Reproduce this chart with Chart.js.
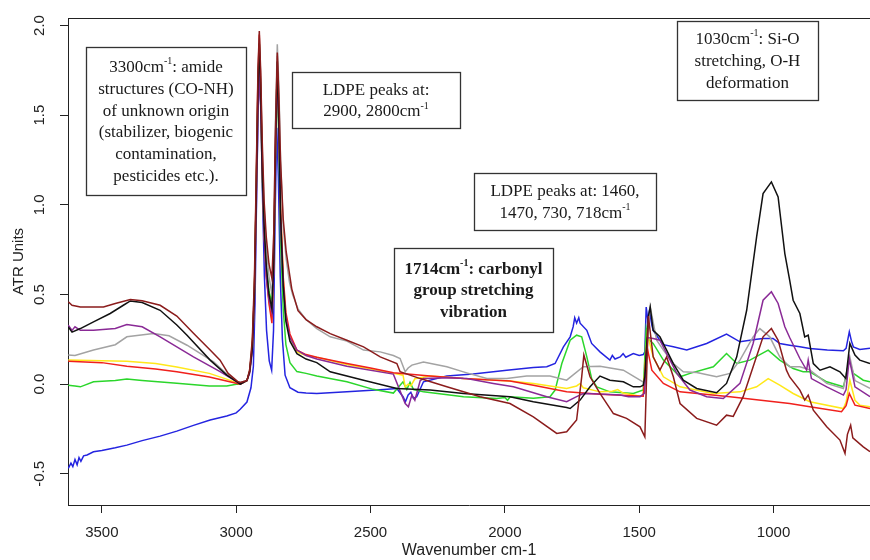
<!DOCTYPE html>
<html><head><meta charset="utf-8">
<script src="https://cdn.jsdelivr.net/npm/chart.js@4.4.1/dist/chart.umd.min.js"></script>
<style>html,body{margin:0;padding:0;background:#fff;overflow:hidden}#wrap{width:870px;height:560px;position:relative}</style>
</head><body><div id="wrap"><canvas id="c" width="870" height="560"></canvas></div>
<script>
// ---- data: [wavenumber cm-1, ATR units] ----
const blueSeries = [[3625,-0.47],[3615,-0.44],[3608,-0.46],[3600,-0.42],[3592,-0.45],[3585,-0.41],[3578,-0.43],[3568,-0.40],[3555,-0.395],[3531,-0.377],[3500,-0.37],[3450,-0.355],[3407,-0.34],[3350,-0.315],[3283,-0.29],[3221,-0.262],[3159,-0.23],[3097,-0.20],[3035,-0.178],[3000,-0.16],[2985,-0.14],[2960,-0.1],[2945,-0.02],[2936,0.1],[2930,0.45],[2924,1.05],[2918,1.55],[2913,1.74],[2908,1.55],[2902,1.05],[2895,0.6],[2887,0.3],[2877,0.13],[2868,0.078],[2861,0.3],[2855,0.95],[2849,1.43],[2843,1.15],[2836,0.6],[2828,0.25],[2818,0.05],[2800,-0.02],[2770,-0.045],[2740,-0.05],[2700,-0.052],[2588,-0.043],[2450,-0.03],[2402,-0.024],[2379,-0.07],[2370,-0.098],[2360,-0.06],[2350,-0.045],[2340,-0.08],[2328,-0.07],[2303,0.013],[2216,0.045],[2118,0.056],[1993,0.078],[1894,0.093],[1844,0.097],[1813,0.115],[1782,0.208],[1757,0.264],[1746,0.319],[1740,0.37],[1733,0.34],[1725,0.37],[1720,0.34],[1695,0.30],[1677,0.227],[1646,0.18],[1609,0.134],[1600,0.16],[1590,0.14],[1571,0.152],[1560,0.17],[1550,0.15],[1522,0.171],[1500,0.16],[1485,0.165],[1479,0.18],[1474,0.43],[1468,0.36],[1462,0.41],[1453,0.33],[1448,0.30],[1423,0.245],[1410,0.22],[1373,0.208],[1323,0.19],[1249,0.227],[1175,0.279],[1125,0.236],[1063,0.25],[1039,0.255],[1002,0.255],[977,0.227],[940,0.217],[902,0.208],[865,0.199],[800,0.19],[740,0.186],[730,0.20],[718,0.292],[710,0.24],[703,0.208],[679,0.193],[641,0.20]];
const greenSeries = [[3625,-0.006],[3600,-0.01],[3580,-0.015],[3531,0.013],[3450,0.02],[3407,0.028],[3350,0.02],[3221,0.005],[3100,-0.01],[3035,-0.01],[3000,0.0],[2985,0.0],[2960,0.02],[2950,0.07],[2940,0.2],[2932,0.5],[2925,1.1],[2919,1.6],[2914,1.85],[2909,1.6],[2903,1.15],[2896,0.85],[2888,0.65],[2878,0.52],[2867,0.45],[2860,0.7],[2854,1.25],[2847,1.7],[2841,1.35],[2835,0.8],[2825,0.42],[2815,0.22],[2800,0.12],[2774,0.07],[2740,0.06],[2700,0.045],[2588,0.013],[2490,-0.029],[2415,-0.05],[2379,0.013],[2365,-0.03],[2353,0.01],[2340,-0.03],[2303,-0.043],[2154,-0.07],[2030,-0.08],[2000,-0.075],[1990,-0.09],[1980,-0.07],[1894,-0.078],[1832,-0.07],[1813,-0.033],[1788,0.115],[1757,0.245],[1733,0.273],[1714,0.264],[1695,0.152],[1677,0.031],[1658,-0.015],[1609,-0.043],[1522,-0.052],[1485,-0.033],[1474,0.31],[1466,0.25],[1448,0.227],[1410,0.134],[1348,0.041],[1311,0.06],[1224,0.097],[1175,0.171],[1137,0.115],[1088,0.134],[1020,0.19],[977,0.134],[927,0.087],[890,0.069],[865,0.069],[802,0.013],[740,-0.015],[730,0.05],[718,0.134],[703,0.06],[666,0.022],[641,0.013]];
const blackSeries = [[3625,0.319],[3611,0.29],[3580,0.31],[3531,0.347],[3469,0.394],[3420,0.44],[3394,0.464],[3350,0.455],[3283,0.412],[3221,0.33],[3183,0.273],[3097,0.134],[3035,0.05],[2997,0.013],[2985,0.0],[2960,0.02],[2950,0.07],[2940,0.2],[2932,0.52],[2925,1.1],[2919,1.65],[2914,1.9],[2909,1.65],[2903,1.2],[2896,0.88],[2888,0.66],[2878,0.5],[2867,0.42],[2860,0.7],[2854,1.3],[2847,1.8],[2841,1.45],[2835,0.95],[2825,0.55],[2815,0.35],[2800,0.24],[2774,0.17],[2740,0.14],[2700,0.12],[2650,0.069],[2526,0.022],[2402,-0.024],[2278,-0.033],[2154,-0.052],[1981,-0.07],[1894,-0.098],[1770,-0.13],[1757,-0.136],[1720,-0.089],[1683,-0.015],[1646,0.045],[1609,0.022],[1559,0.013],[1522,-0.015],[1497,-0.015],[1485,-0.006],[1479,0.041],[1466,0.375],[1459,0.43],[1448,0.30],[1423,0.264],[1398,0.19],[1373,0.115],[1336,0.022],[1286,-0.024],[1212,-0.048],[1175,0.004],[1137,0.152],[1100,0.412],[1063,0.821],[1039,1.063],[1008,1.128],[983,1.044],[958,0.728],[940,0.58],[927,0.468],[902,0.394],[884,0.264],[871,0.273],[852,0.115],[827,0.078],[790,0.097],[753,0.069],[731,0.031],[716,0.227],[697,0.162],[679,0.134],[641,0.115]];
const brownSeries = [[3625,0.459],[3611,0.44],[3580,0.43],[3531,0.43],[3494,0.43],[3450,0.45],[3394,0.472],[3350,0.465],[3283,0.44],[3221,0.38],[3159,0.284],[3097,0.19],[3060,0.134],[3030,0.06],[2993,0.013],[2985,0.01],[2960,0.02],[2950,0.08],[2940,0.25],[2932,0.6],[2925,1.2],[2919,1.75],[2914,1.97],[2909,1.75],[2903,1.35],[2896,1.02],[2888,0.82],[2878,0.67],[2867,0.59],[2860,0.85],[2854,1.4],[2847,1.85],[2841,1.6],[2835,1.25],[2825,0.92],[2814,0.74],[2800,0.6],[2793,0.53],[2770,0.41],[2740,0.36],[2700,0.32],[2650,0.282],[2588,0.245],[2526,0.208],[2464,0.152],[2402,0.115],[2390,0.069],[2315,0.031],[2216,-0.015],[2092,-0.07],[1981,-0.108],[1894,-0.182],[1807,-0.275],[1770,-0.266],[1733,-0.2],[1714,0.041],[1706,0.162],[1683,0.041],[1646,-0.052],[1596,-0.164],[1547,-0.191],[1497,-0.238],[1479,-0.294],[1466,0.38],[1448,0.152],[1423,0.078],[1398,0.152],[1373,0.041],[1348,-0.108],[1286,-0.191],[1212,-0.229],[1175,-0.173],[1150,-0.18],[1113,-0.07],[1076,0.097],[1039,0.264],[1008,0.31],[983,0.245],[952,0.078],[940,0.04],[902,-0.033],[884,-0.089],[871,-0.061],[852,-0.145],[802,-0.238],[753,-0.312],[734,-0.386],[725,-0.28],[713,-0.229],[705,-0.3],[666,-0.35],[641,-0.377]];
const purpleSeries = [[3625,0.329],[3611,0.30],[3600,0.32],[3580,0.30],[3531,0.30],[3450,0.31],[3407,0.333],[3350,0.32],[3283,0.264],[3159,0.152],[3060,0.07],[2997,0.013],[2985,0.0],[2960,0.02],[2950,0.06],[2940,0.18],[2932,0.45],[2925,1.0],[2919,1.5],[2914,1.75],[2909,1.55],[2903,1.15],[2896,0.82],[2888,0.6],[2878,0.47],[2867,0.4],[2860,0.65],[2854,1.25],[2847,1.75],[2841,1.4],[2835,0.9],[2825,0.55],[2815,0.37],[2800,0.26],[2774,0.19],[2740,0.16],[2700,0.14],[2588,0.10],[2415,0.056],[2371,-0.108],[2359,-0.126],[2346,-0.06],[2335,-0.09],[2315,0.02],[2303,0.031],[2216,0.035],[2142,0.031],[2043,0.004],[1968,-0.015],[1844,-0.07],[1770,-0.098],[1733,-0.07],[1708,-0.052],[1646,-0.055],[1571,-0.06],[1540,-0.07],[1497,-0.07],[1480,-0.05],[1470,0.26],[1448,0.255],[1423,0.245],[1398,0.171],[1360,0.06],[1311,-0.033],[1249,-0.07],[1187,-0.08],[1125,0.004],[1076,0.227],[1039,0.468],[1008,0.515],[983,0.45],[958,0.32],[940,0.26],[902,0.143],[877,0.078],[871,0.134],[859,0.031],[802,-0.015],[740,-0.061],[730,-0.03],[718,0.143],[697,-0.015],[641,-0.07]];
const graySeries = [[3625,0.162],[3600,0.16],[3531,0.19],[3450,0.22],[3407,0.264],[3308,0.282],[3250,0.27],[3183,0.217],[3084,0.124],[3030,0.05],[2997,0.013],[2985,0.01],[2960,0.02],[2950,0.07],[2940,0.22],[2932,0.55],[2925,1.15],[2919,1.7],[2914,1.93],[2909,1.72],[2903,1.3],[2896,0.98],[2888,0.76],[2878,0.6],[2867,0.5],[2860,0.8],[2854,1.45],[2847,1.895],[2841,1.65],[2835,1.25],[2825,0.88],[2814,0.7],[2802,0.57],[2790,0.5],[2770,0.42],[2740,0.36],[2700,0.31],[2650,0.264],[2588,0.24],[2526,0.19],[2464,0.18],[2415,0.16],[2390,0.143],[2371,0.069],[2360,0.09],[2346,0.106],[2303,0.124],[2216,0.097],[2142,0.063],[2067,0.031],[1993,0.031],[1919,0.045],[1832,0.045],[1770,0.022],[1708,0.097],[1646,0.10],[1559,0.078],[1497,0.022],[1479,0.005],[1466,0.3],[1459,0.43],[1435,0.245],[1410,0.19],[1373,0.115],[1336,0.069],[1286,0.065],[1212,0.041],[1162,0.06],[1125,0.134],[1076,0.264],[1051,0.31],[1014,0.264],[977,0.152],[940,0.097],[902,0.097],[865,0.08],[802,0.004],[740,-0.024],[730,0.05],[716,0.152],[697,0.02],[641,-0.024]];
const redSeries = [[3625,0.128],[3500,0.12],[3407,0.10],[3300,0.085],[3221,0.069],[3100,0.04],[3000,0.005],[2985,0.0],[2960,0.02],[2950,0.07],[2940,0.22],[2932,0.55],[2925,1.15],[2919,1.72],[2914,1.95],[2909,1.7],[2903,1.25],[2896,0.85],[2888,0.6],[2878,0.45],[2867,0.34],[2860,0.7],[2854,1.35],[2847,1.83],[2841,1.5],[2835,1.0],[2825,0.6],[2815,0.4],[2800,0.28],[2774,0.19],[2740,0.165],[2700,0.15],[2588,0.115],[2500,0.09],[2415,0.063],[2278,0.045],[2154,0.031],[1981,0.018],[1894,-0.006],[1770,-0.043],[1646,-0.056],[1485,-0.067],[1472,0.217],[1453,0.078],[1410,0.004],[1348,-0.043],[1162,-0.07],[940,-0.108],[865,-0.126],[747,-0.154],[730,-0.12],[718,-0.052],[697,-0.117],[641,-0.136]];
const yellowSeries = [[3625,0.134],[3500,0.13],[3407,0.128],[3300,0.115],[3221,0.096],[3100,0.06],[3000,0.01],[2985,0.0],[2960,0.02],[2950,0.07],[2940,0.2],[2932,0.52],[2925,1.1],[2919,1.65],[2914,1.9],[2909,1.65],[2903,1.2],[2896,0.85],[2888,0.62],[2878,0.46],[2867,0.36],[2860,0.68],[2854,1.3],[2847,1.8],[2841,1.45],[2835,0.98],[2825,0.58],[2815,0.38],[2800,0.26],[2774,0.18],[2740,0.16],[2700,0.15],[2588,0.11],[2415,0.06],[2379,0.05],[2371,-0.015],[2360,0.0],[2350,-0.01],[2335,0.03],[2278,0.045],[2154,0.031],[1981,0.018],[1894,0.004],[1770,-0.024],[1733,-0.01],[1720,0.004],[1708,-0.02],[1646,-0.043],[1600,-0.04],[1580,-0.03],[1560,-0.05],[1497,-0.067],[1485,-0.06],[1470,0.282],[1448,0.152],[1410,0.041],[1348,-0.015],[1224,-0.052],[1125,-0.043],[1063,-0.015],[1020,0.031],[977,-0.006],[927,-0.052],[865,-0.098],[740,-0.136],[730,-0.1],[716,0.022],[697,-0.09],[679,-0.117],[641,-0.126]];

const xTicks = [3500, 3000, 2500, 2000, 1500, 1000];
const yTicks = [-0.5, 0, 0.5, 1, 1.5, 2];
const yTickLabels = ['-0.5', '0.0', '0.5', '1.0', '1.5', '2.0'];
const xTitle = 'Wavenumber cm-1';
const yTitle = 'ATR Units';

// annotation texts: segments, second item 1 = superscript
const noteAmide = [[['3300cm'],['-1',1],[': amide']],[['structures (CO-NH)']],[['of unknown origin']],[['(stabilizer, biogenic']],[['contamination,']],[['pesticides etc.).']]];
const noteLdpe1 = [[['LDPE peaks at:']],[['2900, 2800cm'],['-1',1]]];
const noteLdpe2 = [[['LDPE peaks at: 1460,']],[['1470, 730, 718cm'],['-1',1]]];
const noteSiO = [[['1030cm'],['-1',1],[': Si-O']],[['stretching, O-H']],[['deformation']]];
const noteCarbonyl = [[['1714cm'],['-1',1],[': carbonyl']],[['group stretching']],[['vibration']]];

// ---- layout (pixels) ----
const boxes = [
  {lines: noteAmide, x0: 86, y0: 47, x1: 246, y1: 195, bold: false},
  {lines: noteLdpe1, x0: 292, y0: 72, x1: 460, y1: 128, bold: false},
  {lines: noteLdpe2, x0: 474, y0: 173, x1: 656, y1: 230, bold: false},
  {lines: noteSiO, x0: 677, y0: 21, x1: 818, y1: 100, bold: false},
  {lines: noteCarbonyl, x0: 394, y0: 248, x1: 553, y1: 332, bold: true}
];

const INK = '#222';
const SANS = '"Liberation Sans", Arial, sans-serif';
const SERIF = '"Liberation Serif", "Times New Roman", serif';

function toPts(arr){ return arr.map(p => ({x: p[0], y: p[1]})); }

const seriesDefs = [
  {data: brownSeries, color: '#8b1c1c'},
  {data: blackSeries, color: '#111111'},
  {data: purpleSeries, color: '#8a2a96'},
  {data: graySeries, color: '#a3a3a3'},
  {data: redSeries, color: '#f0201c'},
  {data: yellowSeries, color: '#ffe81a'},
  {data: greenSeries, color: '#2bd62b'},
  {data: blueSeries, color: '#2424e0'}
];

const decor = {
  id: 'decor',
  afterDraw(chart) {
    const ctx = chart.ctx, ca = chart.chartArea;
    const ys = chart.scales.y;
    ctx.save();
    ctx.strokeStyle = INK; ctx.lineWidth = 1;
    ctx.beginPath(); ctx.moveTo(ca.left, Math.round(ca.top) + 0.5); ctx.lineTo(ca.right, Math.round(ca.top) + 0.5); ctx.stroke();
    ctx.fillStyle = INK; ctx.font = '15px ' + SANS;
    ctx.textAlign = 'center'; ctx.textBaseline = 'middle';
    yTicks.forEach((v, i) => {
      const py = ys.getPixelForValue(v);
      ctx.save(); ctx.translate(40, py); ctx.rotate(-Math.PI / 2);
      ctx.fillText(yTickLabels[i], 0, 0); ctx.restore();
    });
    ctx.save(); ctx.translate(19, (ca.top + ca.bottom) / 2); ctx.rotate(-Math.PI / 2);
    ctx.font = '15px ' + SANS; ctx.fillText(yTitle, 0, 0); ctx.restore();
    ctx.font = '16px ' + SANS;
    ctx.fillText(xTitle, (ca.left + ca.right) / 2, 551);
    boxes.forEach(b => {
      ctx.fillStyle = '#fff';
      ctx.fillRect(b.x0, b.y0, b.x1 - b.x0, b.y1 - b.y0);
      ctx.strokeStyle = '#333'; ctx.lineWidth = 1.3;
      ctx.strokeRect(b.x0 + 0.5, b.y0 + 0.5, b.x1 - b.x0, b.y1 - b.y0);
      ctx.fillStyle = '#1a1a1a';
      const n = b.lines.length, lh = 21.8;
      const cx = (b.x0 + b.x1) / 2, cy = (b.y0 + b.y1) / 2 + 1;
      const w = b.bold ? 'bold ' : '';
      b.lines.forEach((segs, i) => {
        const y = cy + (i - (n - 1) / 2) * lh;
        let total = 0;
        segs.forEach(s => { ctx.font = w + (s[1] ? '10px ' : '17px ') + SERIF; total += ctx.measureText(s[0]).width; });
        let x = cx - total / 2;
        ctx.textAlign = 'left'; ctx.textBaseline = 'middle';
        segs.forEach(s => {
          ctx.font = w + (s[1] ? '10px ' : '17px ') + SERIF;
          ctx.fillText(s[0], x, s[1] ? y - 6 : y);
          x += ctx.measureText(s[0]).width;
        });
      });
    });
    ctx.restore();
  }
};

new Chart(document.getElementById('c'), {
  type: 'line',
  data: {
    datasets: seriesDefs.map(s => ({
      data: toPts(s.data), borderColor: s.color, borderWidth: 1.5,
      pointRadius: 0, tension: 0, fill: false
    }))
  },
  options: {
    responsive: false, animation: false, devicePixelRatio: 1,
    layout: {padding: {top: 18, left: 0, right: 0, bottom: 0}},
    plugins: {legend: {display: false}, tooltip: {enabled: false}},
    scales: {
      x: {
        type: 'linear', reverse: true, min: 641, max: 3626,
        afterBuildTicks: s => { s.ticks = xTicks.map(v => ({value: v})); },
        afterFit: s => { s.height = 55; },
        grid: {drawOnChartArea: false, drawTicks: true, tickLength: 8, color: INK},
        border: {display: true, color: INK, width: 1},
        ticks: {color: INK, font: {family: SANS, size: 15}, padding: 11, maxRotation: 0, autoSkip: false, callback: v => String(v)}
      },
      y: {
        type: 'linear', min: -0.674, max: 2.042,
        afterBuildTicks: s => { s.ticks = yTicks.map(v => ({value: v})); },
        afterFit: s => { s.width = 68; },
        grid: {drawOnChartArea: false, drawTicks: true, tickLength: 8, color: INK},
        border: {display: true, color: INK, width: 1},
        ticks: {display: false}
      }
    }
  },
  plugins: [decor]
});
</script></body></html>
